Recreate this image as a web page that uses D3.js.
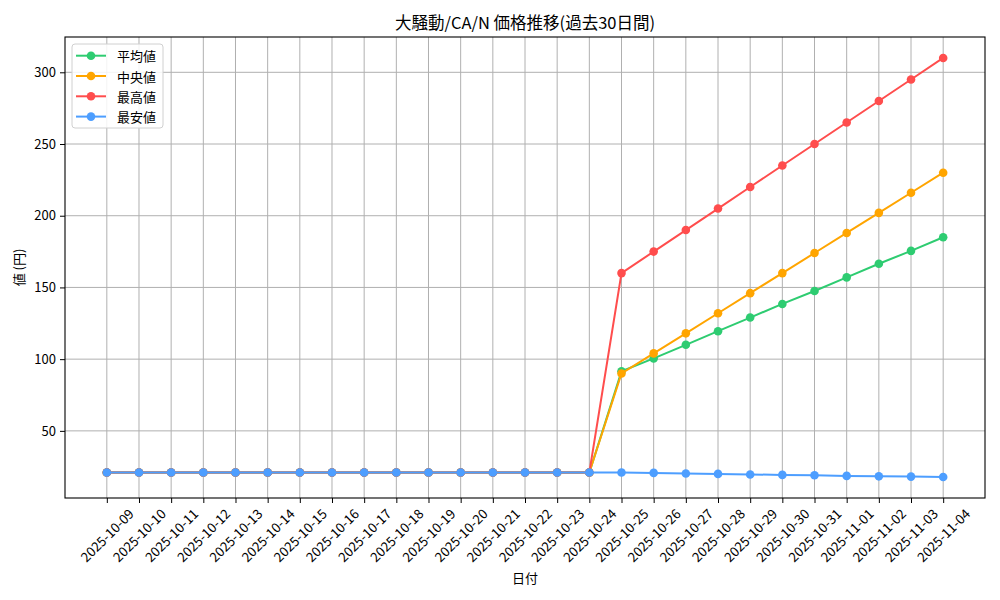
<!DOCTYPE html>
<html><head><meta charset="utf-8">
<script src="https://cdn.jsdelivr.net/npm/d3@7"></script>
<style>
body{margin:0;background:#fff;}
text{font-family:"Noto Sans CJK JP","Noto Sans",sans-serif;fill:#000;}
</style></head>
<body><svg id="c" width="1000" height="600"></svg>
<script>
const dates = ["2025-10-09","2025-10-10","2025-10-11","2025-10-12","2025-10-13","2025-10-14","2025-10-15","2025-10-16","2025-10-17","2025-10-18","2025-10-19","2025-10-20","2025-10-21","2025-10-22","2025-10-23","2025-10-24","2025-10-25","2025-10-26","2025-10-27","2025-10-28","2025-10-29","2025-10-30","2025-10-31","2025-11-01","2025-11-02","2025-11-03","2025-11-04"];
const meanVals   = [21,21,21,21,21,21,21,21,21,21,21,21,21,21,21,21, 91.5,100.5,110,119.5,129,138.5,147.5,157,166.5,175.5,185];
const medianVals = [21,21,21,21,21,21,21,21,21,21,21,21,21,21,21,21, 90,104,118,132,146,160,174,188,202,216,230];
const maxVals    = [21,21,21,21,21,21,21,21,21,21,21,21,21,21,21,21, 160,175,190,205,220,235,250,265,280,295,310];
const minVals    = [21,21,21,21,21,21,21,21,21,21,21,21,21,21,21,21, 21,20.7,20.3,20,19.6,19.3,19,18.6,18.3,18.1,17.8];
const seriesNames = ["平均値","中央値","最高値","最安値"];
const seriesColors = ["#2ecc71","#ffa500","#ff4d4d","#4d9eff"];
const yTicks = [50,100,150,200,250,300];
const title = "大騒動/CA/N 価格推移(過去30日間)";
const xLabel = "日付";
const yLabel = "値 (円)";

const series = [meanVals, medianVals, maxVals, minVals];
const svg = d3.select("#c");
const L=65, R=985, T=37, B=498;

const parse = d3.utcParse("%Y-%m-%d");
const xd = dates.map(parse);
const x0 = xd[0], x1 = xd[xd.length-1];
const span = x1 - x0;
const x = d3.scaleUtc().domain([new Date(+x0 - span*0.05), new Date(+x1 + span*0.05)]).range([L,R]);
const allV = series.flat();
const vmin = d3.min(allV), vmax = d3.max(allV), vr = vmax - vmin;
const y = d3.scaleLinear().domain([vmin - vr*0.05, vmax + vr*0.05]).range([B,T]);

// grid
const g = svg.append("g");
g.selectAll(".gx").data(xd).enter().append("line")
  .attr("x1",d=>x(d)).attr("x2",d=>x(d)).attr("y1",T).attr("y2",B)
  .attr("stroke","#b0b0b0").attr("stroke-width",1);
g.selectAll(".gy").data(yTicks).enter().append("line")
  .attr("x1",L).attr("x2",R).attr("y1",d=>y(d)).attr("y2",d=>y(d))
  .attr("stroke","#b0b0b0").attr("stroke-width",1);

// lines
const line = d3.line().x((d,i)=>x(xd[i])).y(d=>y(d));
series.forEach((s,k)=>{
  svg.append("path").datum(s).attr("d",line).attr("fill","none")
    .attr("stroke",seriesColors[k]).attr("stroke-width",2);
  svg.selectAll(null).data(s).enter().append("circle")
    .attr("cx",(d,i)=>x(xd[i])).attr("cy",d=>y(d)).attr("r",4.3)
    .attr("fill",seriesColors[k]);
});

// frame
svg.append("rect").attr("x",L).attr("y",T).attr("width",R-L).attr("height",B-T)
  .attr("fill","none").attr("stroke","#000").attr("stroke-width",1.1);

// x axis
const xa = svg.append("g").attr("transform",`translate(0,${B})`)
  .call(d3.axisBottom(x).tickValues(xd).tickSize(5).tickFormat(""));
xa.select(".domain").remove();
xa.selectAll("line").attr("stroke","#000");
xd.forEach((d,i)=>{
  svg.append("text").attr("transform",`translate(${x(d)},${B+37}) rotate(-45)`)
    .attr("text-anchor","middle").attr("dominant-baseline","central")
    .attr("font-size",13.3).text(dates[i]);
});

// y axis
const ya = svg.append("g").attr("transform",`translate(${L},0)`)
  .call(d3.axisLeft(y).tickValues(yTicks).tickSize(5).tickPadding(4));
ya.select(".domain").remove();
ya.selectAll("line").attr("stroke","#000");
ya.selectAll("text").attr("font-size",13).style("font-family","'Noto Sans CJK JP'");

// labels
svg.append("text").attr("x",525).attr("y",29).attr("text-anchor","middle").attr("font-size",16.5).text(title);
svg.append("text").attr("x",525).attr("y",583).attr("text-anchor","middle").attr("font-size",13).text(xLabel);
svg.append("text").attr("transform",`translate(24,${(T+B)/2}) rotate(-90)`).attr("text-anchor","middle").attr("font-size",13).text(yLabel);

// legend
const lg = svg.append("g");
lg.append("rect").attr("x",72).attr("y",44).attr("width",91).attr("height",84).attr("rx",3)
  .attr("fill","#fff").attr("fill-opacity",0.85).attr("stroke","#d0d0d0");
seriesNames.forEach((n,k)=>{
  const yy = 55.7 + k*20.3;
  lg.append("line").attr("x1",76).attr("x2",106).attr("y1",yy).attr("y2",yy)
    .attr("stroke",seriesColors[k]).attr("stroke-width",2);
  lg.append("circle").attr("cx",91).attr("cy",yy).attr("r",4.3).attr("fill",seriesColors[k]);
  lg.append("text").attr("x",117).attr("y",yy).attr("dominant-baseline","central").attr("font-size",13).text(n);
});
</script></body></html>
